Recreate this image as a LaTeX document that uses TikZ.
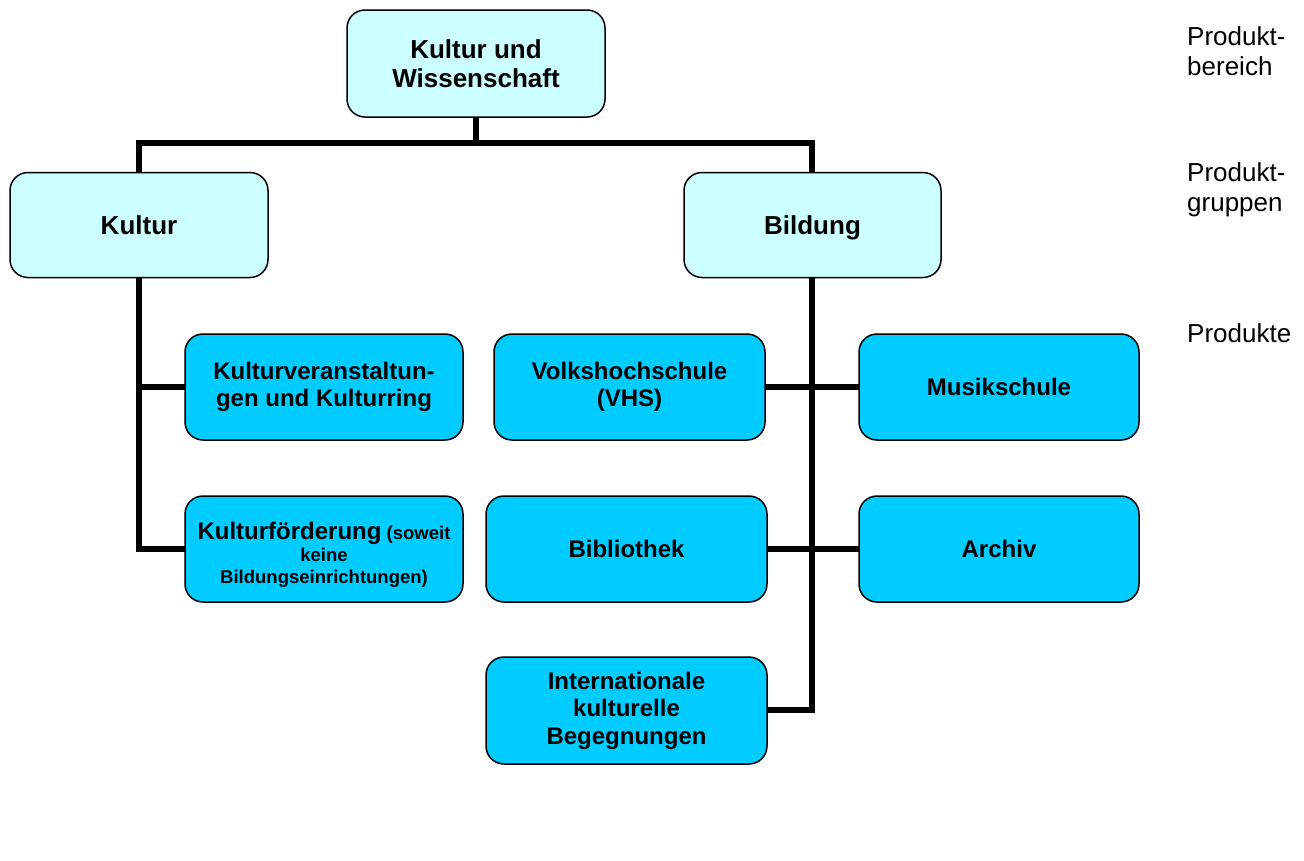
\documentclass[tikz,border=0pt]{standalone}
\usepackage{fontspec}
\setmainfont{Liberation Sans}
\definecolor{groupfill}{HTML}{CCFFFF}
\definecolor{productfill}{HTML}{00CCFF}
\tikzset{
  box/.style={draw=black, line width=1.5pt, rounded corners=18pt, inner sep=0pt,
    align=center},
  groupbox/.style={box, fill=groupfill, font=\bfseries\fontsize{26}{29}\selectfont},
  prodbox/.style={box, fill=productfill, font=\bfseries\fontsize{24}{27.5}\selectfont},
  conn/.style={draw=black, line width=6pt, line join=miter},
  levellabel/.style={anchor=north west, inner sep=0pt, align=left,
    font=\fontsize{26}{30}\selectfont}
}
\begin{document}
\begin{tikzpicture}[x=1pt, y=-1pt]
\useasboundingbox (0,0) rectangle (1304,860);

% connectors (drawn first, boxes lie on top)
\coordinate (bus) at (476,143);
\coordinate (topfoot) at (476,117);
\coordinate (kulturfoot) at (139,277);
\coordinate (bildungfoot) at (812,277);
\draw[conn] (topfoot) -- (bus);
\draw[conn] (139,172) |- (bus) -| (812,172);
\draw[conn] (kulturfoot) |- (185,549);
\draw[conn] (139,387) -- (185,387);
\draw[conn] (bildungfoot) |- (767,710);
\draw[conn] (765,387) -- (859,387);
\draw[conn] (767,549) -- (859,549);

% product area and product groups
\node[groupbox, minimum width=258pt, minimum height=107pt] (top) at (476,63.5)
  {Kultur und\\Wissenschaft};
\node[groupbox, minimum width=258pt, minimum height=105pt] (kultur) at (139,225)
  {Kultur};
\node[groupbox, minimum width=257pt, minimum height=105pt, text depth=0pt] (bildung) at (812.5,225)
  {Bildung};

% products
\node[prodbox, minimum width=278pt, minimum height=106pt] (kveran) at (324,387)
  {Kulturveranstaltun-\\gen und Kulturring};
\node[prodbox, minimum width=278pt, minimum height=106pt,
      font=\bfseries\fontsize{18.5}{22}\selectfont] (kfoerd) at (324,549)
  {\rule{0pt}{28pt}{\fontsize{24}{22}\selectfont Kulturförderung} (soweit\\keine\\Bildungseinrichtungen)};
\node[prodbox, minimum width=271pt, minimum height=106pt] (vhs) at (629.5,387)
  {Volkshochschule\\(VHS)};
\node[prodbox, minimum width=281pt, minimum height=106pt] (biblio) at (626.5,549)
  {Bibliothek};
\node[prodbox, minimum width=280pt, minimum height=106pt] (musik) at (999,387)
  {Musikschule};
\node[prodbox, minimum width=280pt, minimum height=106pt] (archiv) at (999,549)
  {Archiv};
\node[prodbox, minimum width=281pt, minimum height=107pt] (intl) at (626.5,710.5)
  {Internationale\\kulturelle\\Begegnungen};

% level labels
\node[levellabel] (lvl1) at (1187,26.5) {Produkt-\\bereich};
\node[levellabel] (lvl2) at (1187,162) {Produkt-\\gruppen};
\node[levellabel] (lvl3) at (1187,323.5) {Produkte};
\end{tikzpicture}
\end{document}
